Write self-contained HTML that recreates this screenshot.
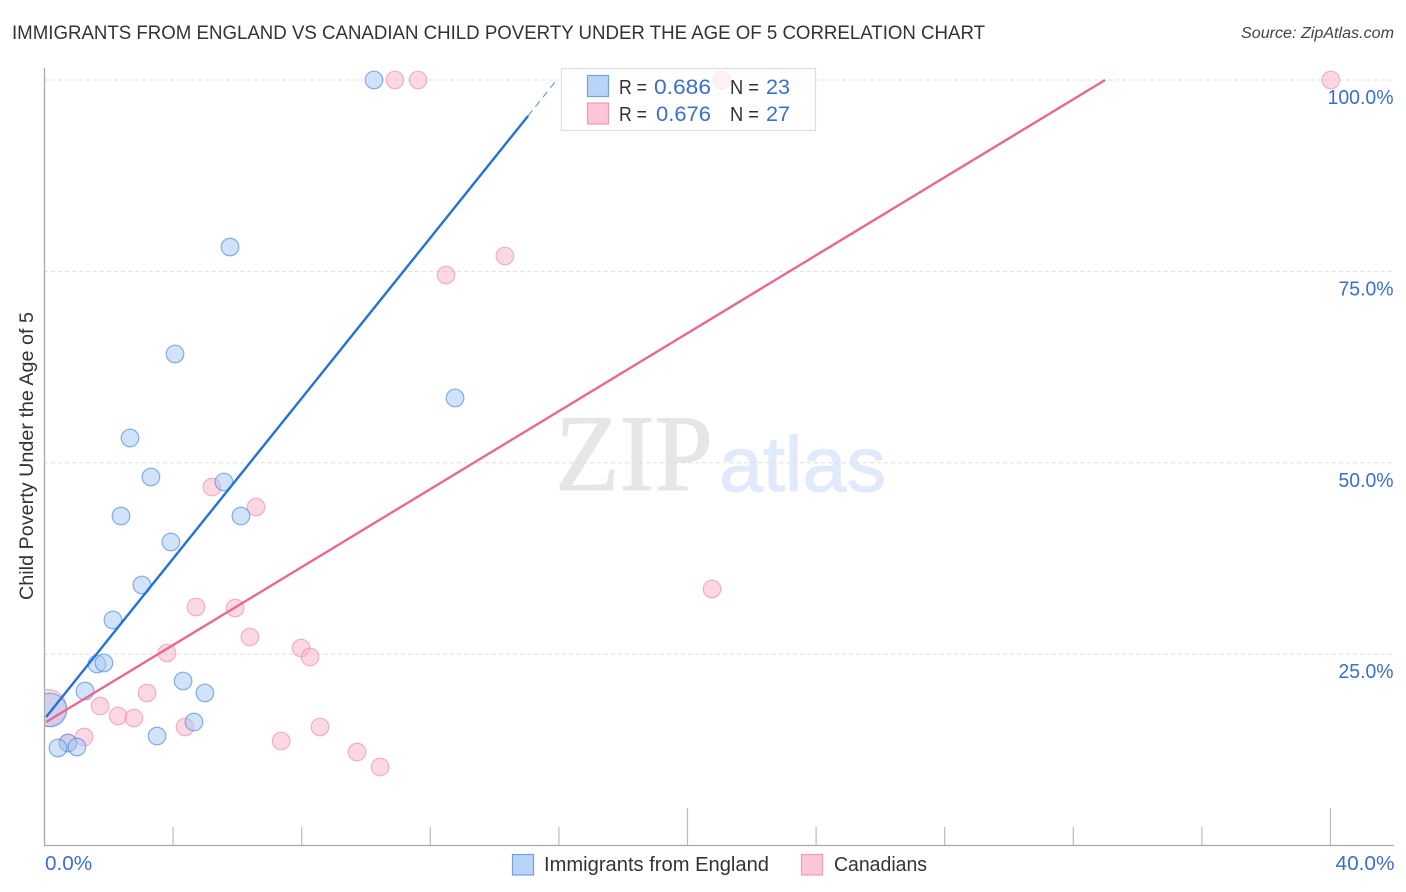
<!DOCTYPE html>
<html lang="en">
<head>
<meta charset="utf-8">
<title>Immigrants from England vs Canadian Child Poverty Correlation Chart</title>
<style>
html,body{margin:0;padding:0;background:#fff;}
svg{display:block;font-family:"Liberation Sans",sans-serif;}
</style>
</head>
<body>
<svg id="chart" width="1406" height="892" viewBox="0 0 1406 892" xmlns="http://www.w3.org/2000/svg">
  <defs>
    <clipPath id="plot-clip"><rect x="45" y="60" width="1349" height="785"></rect></clipPath>
  </defs>
  <rect x="0" y="0" width="1406" height="892" fill="#fff"></rect>
  <text x="12" y="39" font-size="19" fill="#333" textLength="973" lengthAdjust="spacingAndGlyphs">IMMIGRANTS FROM ENGLAND VS CANADIAN CHILD POVERTY UNDER THE AGE OF 5 CORRELATION CHART</text>
  <text x="1241" y="38" font-size="15.5" font-style="italic" fill="#444" textLength="153" lengthAdjust="spacingAndGlyphs">Source: ZipAtlas.com</text>
  <text x="555" y="490" font-family="'Liberation Serif',serif" font-size="109" fill="#e6e6e6" stroke="#e6e6e6" stroke-width="1" textLength="158" lengthAdjust="spacingAndGlyphs">ZIP</text>
  <text x="719" y="491" font-size="78" fill="#e0eafa" stroke="#e0eafa" stroke-width="1" textLength="167" lengthAdjust="spacingAndGlyphs">atlas</text>
  <g id="grid"></g>
  <g id="axes">
    <line x1="44.5" y1="68" x2="44.5" y2="846" stroke="#aaa" stroke-width="1.3"></line>
    <line x1="44" y1="845.5" x2="1394" y2="845.5" stroke="#aaa" stroke-width="1.3"></line>
  </g>
  <g id="points" clip-path="url(#plot-clip)"></g>
  <g id="trends" clip-path="url(#plot-clip)"></g>
  <text transform="translate(33,456) rotate(-90)" text-anchor="middle" font-size="19" fill="#333" textLength="288" lengthAdjust="spacingAndGlyphs">Child Poverty Under the Age of 5</text>
  <g id="tick-labels"></g>

  <g>
    <rect x="561.5" y="68.5" width="254" height="62" fill="#fff" fill-opacity="0.72" stroke="#ddd" stroke-width="1.2"></rect>
    <rect x="587.5" y="75.5" width="21" height="21" fill="#b8d4f8" stroke="#70a4e0" stroke-width="1.2"></rect>
    <rect x="587.5" y="103" width="21" height="21" fill="#fcc6d8" stroke="#f09ab8" stroke-width="1.2"></rect>
    <text x="619" y="94" font-size="20" fill="#333" textLength="28" lengthAdjust="spacingAndGlyphs">R =</text>
    <text x="654" y="94" font-size="21" fill="#3a70c8" textLength="57" lengthAdjust="spacingAndGlyphs">0.686</text>
    <text x="730" y="94" font-size="20" fill="#333" textLength="29" lengthAdjust="spacingAndGlyphs">N =</text>
    <text x="766" y="94" font-size="21" fill="#3a70c8" textLength="24" lengthAdjust="spacingAndGlyphs">23</text>
    <text x="619" y="121" font-size="20" fill="#333" textLength="28" lengthAdjust="spacingAndGlyphs">R =</text>
    <text x="656" y="121" font-size="21" fill="#3a70c8" textLength="55" lengthAdjust="spacingAndGlyphs">0.676</text>
    <text x="730" y="121" font-size="20" fill="#333" textLength="29" lengthAdjust="spacingAndGlyphs">N =</text>
    <text x="766" y="121" font-size="21" fill="#3a70c8" textLength="24" lengthAdjust="spacingAndGlyphs">27</text>
  </g>

  <g>
    <rect x="512.5" y="854.5" width="21" height="20.5" fill="#b8d4f8" stroke="#70a4e0" stroke-width="1.2"></rect>
    <text x="544" y="871" font-size="20" fill="#333" textLength="225" lengthAdjust="spacingAndGlyphs">Immigrants from England</text>
    <rect x="801.5" y="854.5" width="21" height="20.5" fill="#fcc6d8" stroke="#f09ab8" stroke-width="1.2"></rect>
    <text x="834" y="871" font-size="20" fill="#333" textLength="93" lengthAdjust="spacingAndGlyphs">Canadians</text>
  </g>
</svg>
<script>
// Data (percent units)
const englandX = [10.25,5.77,4.06,12.77,2.66,3.31,5.58,2.38,6.11,3.93,3.03,2.13,1.63,1.85,1.26,4.31,4.99,4.65,3.50,0.73,0.42,1.01,0.17];
const englandY = [100,78.18,64.21,58.46,53.23,48.14,47.49,43.04,43.04,39.65,34.03,29.46,23.71,23.84,20.18,21.49,19.92,16.13,14.30,13.39,12.74,12.87,17.70];
const englandWeight = [1,1,1,1,1,1,1,1,1,1,1,1,1,1,1,1,1,1,1,1,1,1,3.6];
const canadiansX = [10.90,11.62,21.07,40.01,14.32,12.49,5.21,6.58,20.76,4.71,5.93,6.39,3.81,7.98,8.26,3.19,1.73,2.29,2.78,4.37,1.23,0.73,7.36,8.57,9.72,10.44,0.11];
const canadiansY = [100,100,100,100,77.01,74.53,46.83,44.22,33.51,31.16,31.03,27.24,25.15,25.80,24.62,19.92,18.22,16.92,16.66,15.48,14.17,13.39,13.65,15.48,12.21,10.25,17.96];
const canadiansWeight = [1,1,1,1,1,1,1,1,1,1,1,1,1,1,1,1,1,1,1,1,1,1,1,1,1,1,4.4];
const englandTrendX = [0.05,15.04];
const englandTrendY = [16.79,95.3];
const englandDashX = [15.04,15.88];
const englandDashY = [95.3,99.74];
const canadiansTrendX = [0.05,32.99];
const canadiansTrendY = [16.13,100];
const yTickValues = [25,50,75,100];
const yTickLabels = ['25.0%','50.0%','75.0%','100.0%'];
const xTickValues = [0,4,8,12,16,20,24,28,32,36,40];
const xMajorTicks = [20,40];
const xEndValues = [0,40];
const xEndLabels = ['0.0%','40.0%'];

const NS = 'http://www.w3.org/2000/svg';
function xScale(v){ return 44.5 + v * 32.15; }
function yScale(v){ return 845.5 - v * 7.655; }
function make(tag, parent, attrs){
  const el = document.createElementNS(NS, tag);
  Object.keys(attrs).forEach(function(k){ el.setAttribute(k, attrs[k]); });
  parent.appendChild(el);
  return el;
}

const gridG = document.getElementById('grid');
const axesG = document.getElementById('axes');
const labelsG = document.getElementById('tick-labels');
const pointsG = document.getElementById('points');
const trendsG = document.getElementById('trends');

yTickValues.forEach(function(v, i){
  const line = make('line', gridG, {x1:44, x2:1394, y1:yScale(v), y2:yScale(v), stroke:'#dcdfe2', 'stroke-width':1, 'stroke-dasharray':'4 3'});
  
  
  const label = make('text', labelsG, {x:1393.5, y:yScale(v) + 24, 'text-anchor':'end', 'font-size':20, fill:'#3a70c8', textLength:yTickLabels[i].length * 11, lengthAdjust:'spacingAndGlyphs'});
  label.textContent = yTickLabels[i];
  
  
});

xTickValues.forEach(function(v){
  if (v === 0) return;
  const top = xMajorTicks.indexOf(v) >= 0 ? 808 : 827;
  const tick = make('line', axesG, {x1:xScale(v), x2:xScale(v), y1:top, y2:845, stroke:'#bbb', 'stroke-width':1.2});
  
  
});

xEndValues.forEach(function(v, i){
  const label = make('text', labelsG, {x: i === 0 ? xScale(v) + 0.5 : xScale(v) + 64, y:870, 'text-anchor': i === 0 ? 'start' : 'end', 'font-size':20, fill:'#3a70c8', textLength:xEndLabels[i].length * 11.8, lengthAdjust:'spacingAndGlyphs'});
  label.textContent = xEndLabels[i];
  
  
});

function drawPoints(xs, ys, ws, fill, stroke, name){
  xs.forEach(function(x, i){
    const c = make('circle', pointsG, {cx:xScale(x), cy:yScale(ys[i]), r:8.8 * Math.sqrt(ws[i]), fill:fill, 'fill-opacity':0.52, stroke:stroke, 'stroke-opacity':0.65, 'stroke-width':1.2});
    
    
  });
}
drawPoints(canadiansX, canadiansY, canadiansWeight, '#f9b4cb', '#ee8eaf', 'canadians-point');
drawPoints(englandX, englandY, englandWeight, '#a6caf5', '#4a88d8', 'england-point');

const englandLine = make('line', trendsG, {x1:xScale(englandTrendX[0]), y1:yScale(englandTrendY[0]), x2:xScale(englandTrendX[1]), y2:yScale(englandTrendY[1]), stroke:'#2272d8', 'stroke-width':2.4});


const englandDash = make('line', trendsG, {x1:xScale(englandDashX[0]), y1:yScale(englandDashY[0]), x2:xScale(englandDashX[1]), y2:yScale(englandDashY[1]), stroke:'#2272d8', 'stroke-width':1, 'stroke-dasharray':'7 5', 'stroke-opacity':0.8});


const canadiansLine = make('line', trendsG, {x1:xScale(canadiansTrendX[0]), y1:yScale(canadiansTrendY[0]), x2:xScale(canadiansTrendX[1]), y2:yScale(canadiansTrendY[1]), stroke:'#e8688f', 'stroke-width':2.4});


</script>
</body>
</html>
